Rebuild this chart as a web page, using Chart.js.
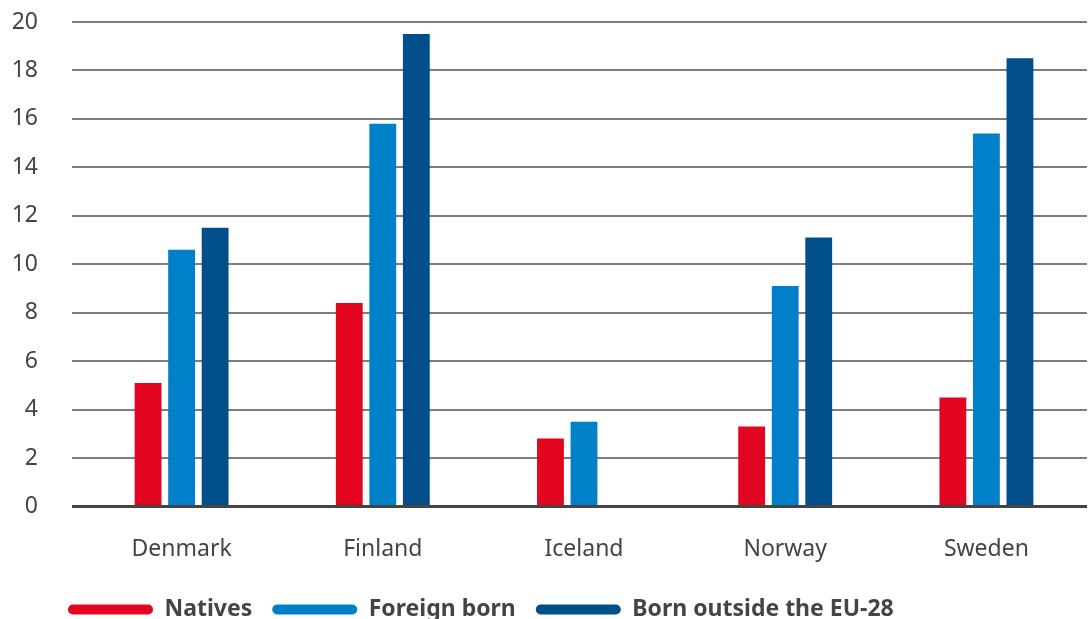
<!DOCTYPE html>
<html>
<head>
<meta charset="utf-8">
<script src="https://cdn.jsdelivr.net/npm/chart.js@4"></script>
<style>
  html, body { margin: 0; padding: 0; background: #fff; }
  #wrap { width: 1090px; height: 619px; }
</style>
</head>
<body>
<div id="wrap"><canvas id="rateChart" width="1090" height="619"></canvas></div>
<script>
const countries = ['Denmark', 'Finland', 'Iceland', 'Norway', 'Sweden'];
const natives = [5.1, 8.4, 2.8, 3.3, 4.5];
const foreignBorn = [10.6, 15.8, 3.5, 9.1, 15.4];
const outsideEU = [11.5, 19.5, null, 11.1, 18.5];

const seriesNames = ['Natives', 'Foreign born', 'Born outside the EU-28'];
const seriesColors = ['#e30520', '#0080c9', '#004f8b'];

const textColor = '#444444';
const fontFamily = '"Noto Sans", sans-serif';

// put the legend where the original has it
const legendShift = {
  id: 'legendShift',
  afterLayout(chart) {
    if (chart.legend) {
      chart.legend.left = 48;
      chart.legend.top = 578;
    }
  }
};

// no extra space around the axes from the label sizes
function noPad(scale) {
  scale.paddingTop = 0;
  scale.paddingBottom = 0;
  scale.paddingLeft = 0;
  scale.paddingRight = 0;
}

const ctx = document.getElementById('rateChart').getContext('2d');

new Chart(ctx, {
  type: 'bar',
  data: {
    labels: countries,
    datasets: [natives, foreignBorn, outsideEU].map((vals, i) => ({
      label: seriesNames[i],
      data: vals,
      backgroundColor: seriesColors[i],
      borderWidth: 0,
      barPercentage: 0.8,
      categoryPercentage: 0.5
    }))
  },
  options: {
    responsive: false,
    animation: false,
    layout: { padding: { left: 11, right: 3, top: 22, bottom: -18 } },
    plugins: {
      tooltip: { enabled: false },
      legend: {
        position: 'bottom',
        align: 'start',
        labels: {
          boxWidth: 85,
          boxHeight: 10,
          useBorderRadius: true,
          borderRadius: 5,
          padding: 20,
          color: textColor,
          font: { family: fontFamily, size: 23, weight: 'bold' }
        }
      }
    },
    scales: {
      x: {
        grid: { display: false },
        border: { display: false },
        afterFit: noPad,
        ticks: {
          color: textColor,
          padding: 21,
          font: { family: fontFamily, size: 23 }
        }
      },
      y: {
        min: 0,
        max: 20,
        border: { display: false },
        afterFit(scale) {
          noPad(scale);
          scale.width = 70;
        },
        grid: {
          color: c => c.tick && c.tick.value === 0 ? '#444444' : '#7d7d7d',
          lineWidth: c => c.tick && c.tick.value === 0 ? 3 : 2,
          tickLength: 9,
          drawTicks: true
        },
        ticks: {
          stepSize: 2,
          padding: 34,
          color: textColor,
          font: { family: fontFamily, size: 23 }
        }
      }
    }
  },
  plugins: [legendShift]
});
</script>
</body>
</html>
